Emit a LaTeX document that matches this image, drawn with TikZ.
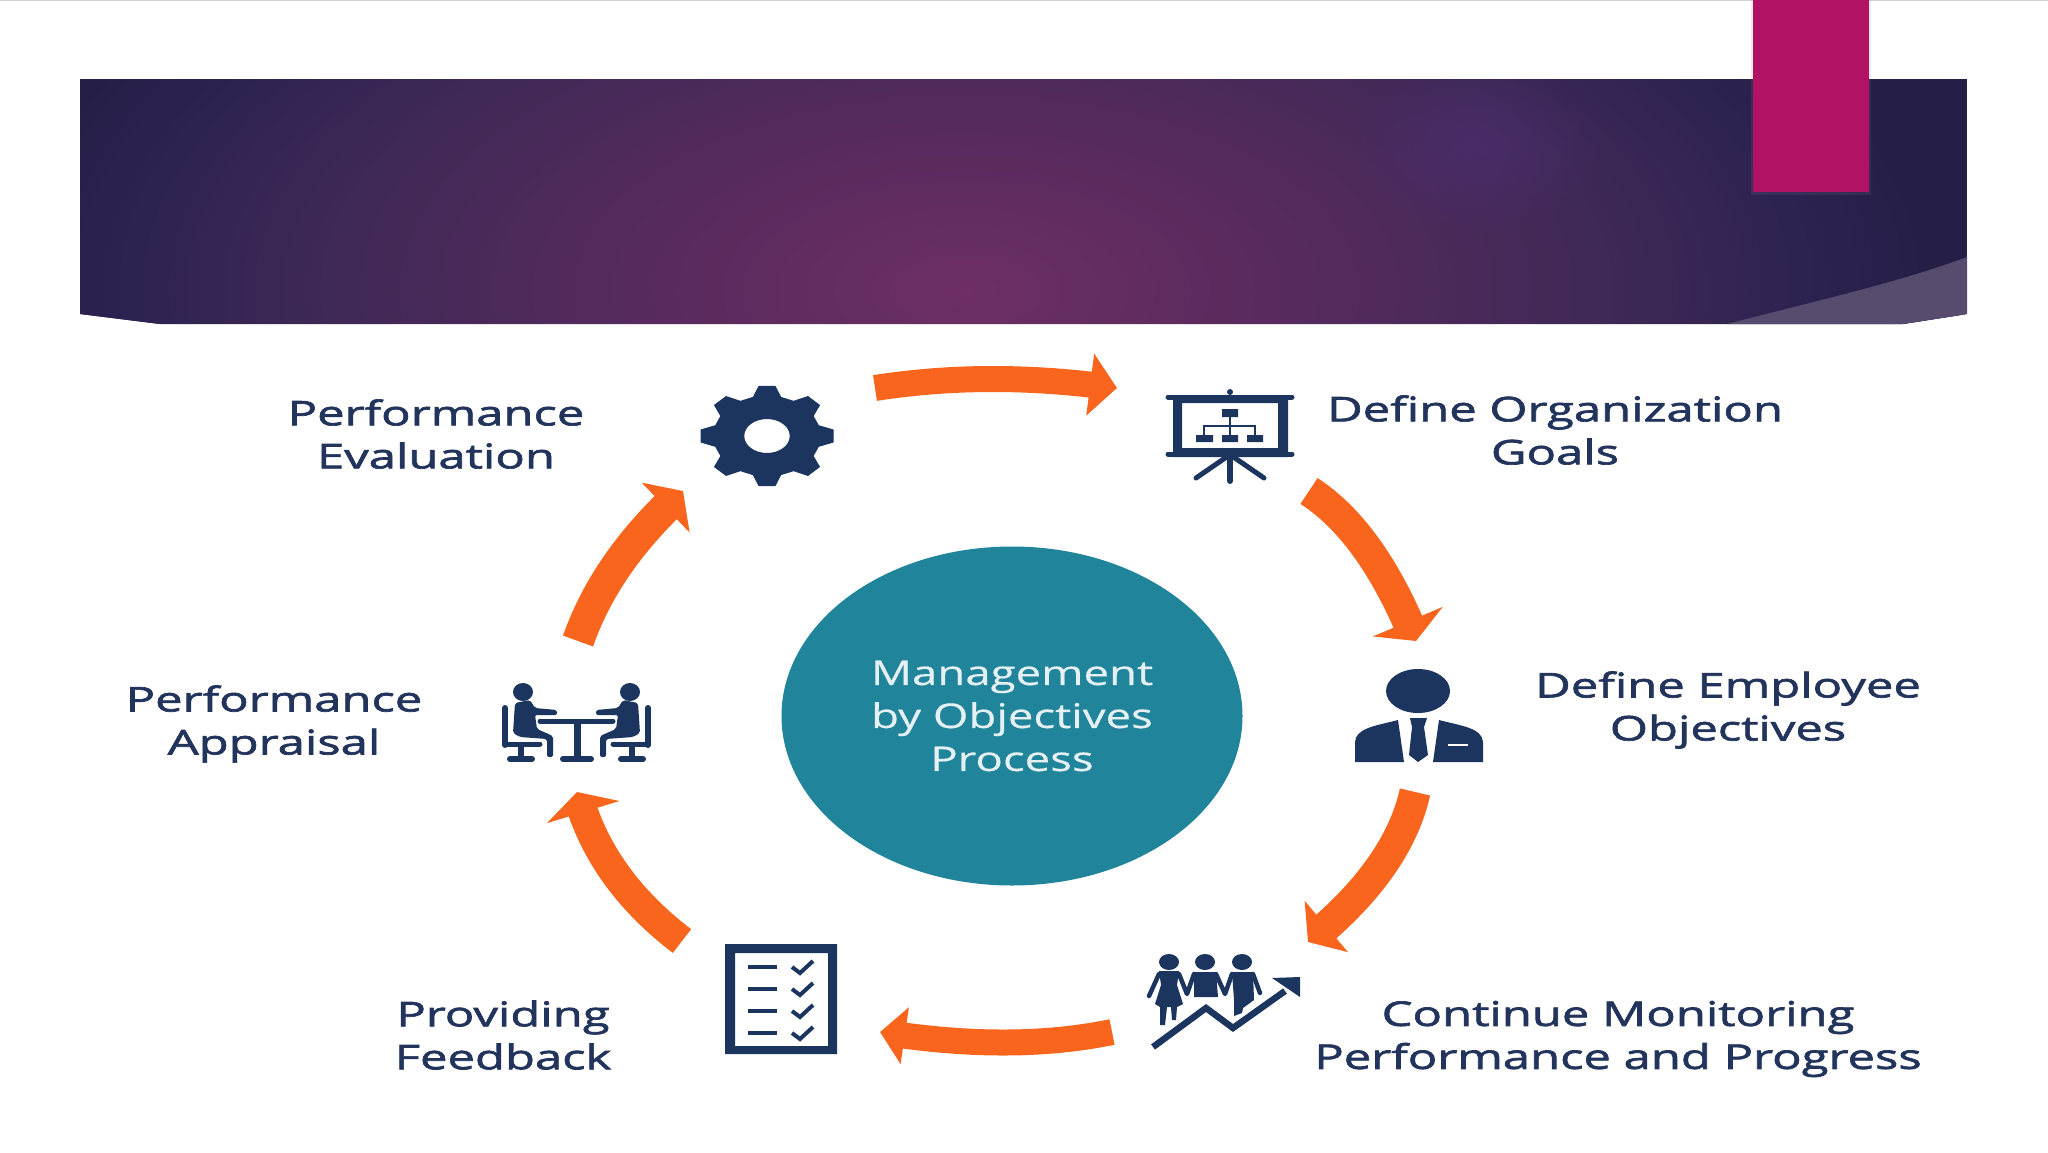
\documentclass[tikz,border=0pt]{standalone}
\usepackage{fontspec}
\setmainfont{Open Sans}[FakeStretch=1.34,FakeBold=0.5]
\newfontfamily\labelfont{Open Sans}[FakeStretch=1.44,FakeBold=2]
\usetikzlibrary{arrows.meta,bending,fadings,shapes.geometric}
\definecolor{navy}{HTML}{1B355F}
\definecolor{labelnavy}{HTML}{22345C}
\definecolor{flowor}{HTML}{F9651C}
\definecolor{teal1}{HTML}{20849A}
\definecolor{pinkbar}{HTML}{B21263}
\definecolor{wedge}{HTML}{574C6E}
\definecolor{bandA}{HTML}{6E2F63}
\definecolor{bandB}{HTML}{572A5D}
\definecolor{bandC}{HTML}{3F2956}
\definecolor{bandD}{HTML}{2D2250}
\definecolor{bandE}{HTML}{251F47}
\definecolor{glowblue}{HTML}{4E2F78}
\pgfdeclareradialshading{bannerglow}{\pgfpoint{0bp}{0bp}}{%
  color(0bp)=(bandA); color(8bp)=(bandB); color(16bp)=(bandC); color(21bp)=(bandD); color(24bp)=(bandE); color(50bp)=(bandE)}
\tikzfading[name=softglow,inner color=transparent!45,outer color=transparent!100]
\tikzset{
  steplabel/.style={font=\labelfont\fontsize{34}{43}\selectfont,text=labelnavy,align=center,inner sep=0pt},
  centerlabel/.style={font=\fontsize{34}{43}\selectfont,text=white!88!teal1,align=center,inner sep=0pt},
  flow/.style n args={3}{draw=flowor,line width=#1,line cap=butt,-{Triangle[length=#2,width=#3,flex=1]}},
  ink/.style={fill=navy,draw=none},
  inkline/.style={draw=navy,line cap=round,line join=round},
  pics/sitter/.style={code={
    \draw[inkline,line width=6pt] (505,708) -- (505,745);
    \draw[inkline,line width=5pt] (505,744) -- (540,744);
    \draw[inkline,line width=6pt,line cap=butt] (521,745) -- (521,757);
    \draw[inkline,line width=6pt] (510,759) -- (532,759);
    \fill[ink] (523,692) ellipse[x radius=10,y radius=9];
    \fill[ink,rounded corners=2pt] (515,703) -- (530,700) -- (535,708) -- (557,710) -- (557,715)
      -- (535,715) -- (537,729) -- (553,736) -- (553,757) -- (547,757) -- (547,739) -- (520,737) -- (513,733) -- cycle;
  }}
}
\begin{document}
\begin{tikzpicture}[x=1pt,y=-1pt]
\useasboundingbox (0,0) rectangle (2048,1152);
\fill[white] (0,0) rectangle (2048,1152);
\fill[black!18] (0,0) rectangle (2048,1.4);
% banner
\begin{scope}
  \clip (80,79) -- (1967,79) -- (1967,314) -- (1903,324) -- (160,324) -- (80,314) -- cycle;
  \fill[bandE] (80,79) rectangle (1967,324);
  \shade[shading=bannerglow] (966,290) ellipse[x radius=1000,y radius=500];
  \fill[color=glowblue,path fading=softglow] (1476,144) ellipse[x radius=130,y radius=90];
  \fill[wedge] (1727,324) .. controls (1820,300) and (1900,282) .. (1967,257) -- (1967,330) -- (1727,330) -- cycle;
\end{scope}
\fill[black!50,opacity=.15] (1751,0) rectangle (1871,195);
\fill[pinkbar] (1753,0) rectangle (1869,192);
% centre
\node[ellipse,fill=teal1,minimum width=461pt,minimum height=339pt,inner sep=0pt] (hub) at (1012,716) {};
\node[centerlabel] (hubtext) at (1012,716) {Management\\by Objectives\\Process};
% labels
\node[steplabel] (lEval) at (436,434) {Performance\\Evaluation};
\node[steplabel] (lGoals) at (1555,430) {Define Organization\\Goals};
\node[steplabel] (lEmp) at (1728,710) {Define Employee\\Objectives};
\node[steplabel] (lMon) at (1618,1039) {Continue Monitoring\\Performance and Progress};
\node[steplabel] (lFeed) at (503,1035) {Providing\\Feedback};
\node[steplabel] (lAppr) at (274,724) {Performance\\Appraisal};
% arrow ends
\coordinate (a1s) at (875,388); \coordinate (a1e) at (1117,388);
\coordinate (a2s) at (1309,491); \coordinate (a2e) at (1416,641);
\coordinate (a3s) at (1415,792); \coordinate (a3e) at (1308,942);
\coordinate (a4s) at (1112,1032); \coordinate (a4e) at (880,1032);
\coordinate (a5s) at (682,941); \coordinate (a5e) at (577,792);
\coordinate (a6s) at (578,641); \coordinate (a6e) at (683,491);
\draw[flow={26pt}{27pt}{61pt}] (a1s) .. controls (952,376) and (1032,376) .. (a1e);
\draw[flow={31pt}{21pt}{75pt}] (a2s) .. controls (1354,520) and (1389,574) .. (a2e);
\draw[flow={31pt}{24pt}{66pt}] (a3s) .. controls (1403,846) and (1365,896) .. (a3e);
\draw[flow={26pt}{25pt}{56pt}] (a4s) .. controls (1044,1046) and (967,1046) .. (a4e);
\draw[flow={30pt}{21pt}{75pt}] (a5s) .. controls (628,900) and (592,850) .. (a5e);
\draw[flow={32pt}{24pt}{68pt}] (a6s) .. controls (598,585) and (632,538) .. (a6e);
% gear
\begin{scope}[shift={(767,436)},xscale=1.33]
  \fill[ink,even odd rule,draw=navy,line width=1pt,line join=round]
    (-15:40) \foreach \a in {0,45,...,315} { -- (\a-15:40) -- (\a-7:50) -- (\a+7:50) -- (\a+15:40) } -- cycle
    (0,0) circle[radius=17.5];
\end{scope}
% presentation board
\fill[ink,even odd rule] (1173,395) rectangle (1288,457) (1182,403) rectangle (1278,448);
\draw[inkline,line width=5pt] (1168,397) -- (1292,397);
\draw[inkline,line width=5pt] (1168,454) -- (1292,454);
\fill[ink] (1230,392) circle[radius=3];
\draw[inkline,line width=6pt] (1230,455) -- (1230,481);
\draw[inkline,line width=5pt] (1228,456) -- (1196,478);
\draw[inkline,line width=5pt] (1232,456) -- (1264,478);
\fill[ink] (1222,409) rectangle (1238,417) (1196,435) rectangle (1213,442) (1222,435) rectangle (1238,442) (1247,435) rectangle (1263,442);
\draw[navy,line width=1.5pt] (1230,417) -- (1230,435) (1204,435) -- (1204,426) -- (1255,426) -- (1255,435);
% person
\fill[ink] (1418,691) ellipse[x radius=32,y radius=22];
\fill[ink] (1355,762) -- (1355,742) .. controls (1356,728) and (1375,726) .. (1398,720) -- (1404,762) -- cycle;
\fill[ink] (1433,762) -- (1439,720) .. controls (1462,726) and (1482,728) .. (1483,742) -- (1483,762) -- cycle;
\fill[ink] (1410,718) -- (1427,718) -- (1424,727) -- (1428,755) -- (1418,762) -- (1409,755) -- (1412,727) -- cycle;
\draw[white,line width=2.5pt] (1448,745) -- (1468,745);
% team and chart
\fill[ink] (1169,962) ellipse[x radius=10,y radius=8];
\fill[ink] (1205,962) ellipse[x radius=10,y radius=8];
\fill[ink] (1242,962) ellipse[x radius=10,y radius=8];
\fill[ink] (1159,971) -- (1179,971) -- (1177,985) -- (1183,1004) -- (1177,1007) -- (1176,1020) -- (1172,1020) -- (1171,1007) -- (1167,1007) -- (1165,1025) -- (1160,1025) -- (1160,1007) -- (1155,1004) -- (1161,985) -- cycle;
\fill[ink] (1194,972) -- (1216,972) -- (1218,997) -- (1194,997) -- cycle;
\fill[ink] (1232,972) -- (1253,972) -- (1254,1000) -- (1243,1008) -- (1242,1013) -- (1234,1016) -- (1234,1000) -- cycle;
\draw[inkline,line width=4.5pt] (1159,974) -- (1149,996);
\draw[inkline,line width=4.5pt] (1179,974) -- (1187,994) -- (1194,974);
\draw[inkline,line width=4.5pt] (1216,974) -- (1225,994) -- (1232,974);
\draw[inkline,line width=4.5pt] (1253,974) -- (1260,993);
\draw[navy,line width=6.5pt,line join=miter] (1153,1047) -- (1206,1008) -- (1233,1028) -- (1285,991);
\fill[ink] (1272,978) -- (1300,977) -- (1300,997) -- cycle;
% checklist
\fill[ink,even odd rule] (725,944) rectangle (837,1054) (735,953) rectangle (828,1046);
\foreach \dy in {0,22,44,66}{
  \draw[navy,line width=4pt] (748,967+\dy) -- (777,967+\dy);
  \draw[navy,line width=4pt] (792,967+\dy) -- (800,973+\dy) -- (813,961+\dy);
}
% meeting
\pic at (0,0) {sitter};
\begin{scope}[shift={(1153,0)},xscale=-1]
  \pic[transform shape] at (0,0) {sitter};
\end{scope}
\draw[inkline,line width=5pt] (540,721) -- (613,721);
\draw[navy,line width=7pt] (577,722) -- (577,757);
\draw[inkline,line width=6pt] (563,759) -- (591,759);
\end{tikzpicture}
\end{document}
